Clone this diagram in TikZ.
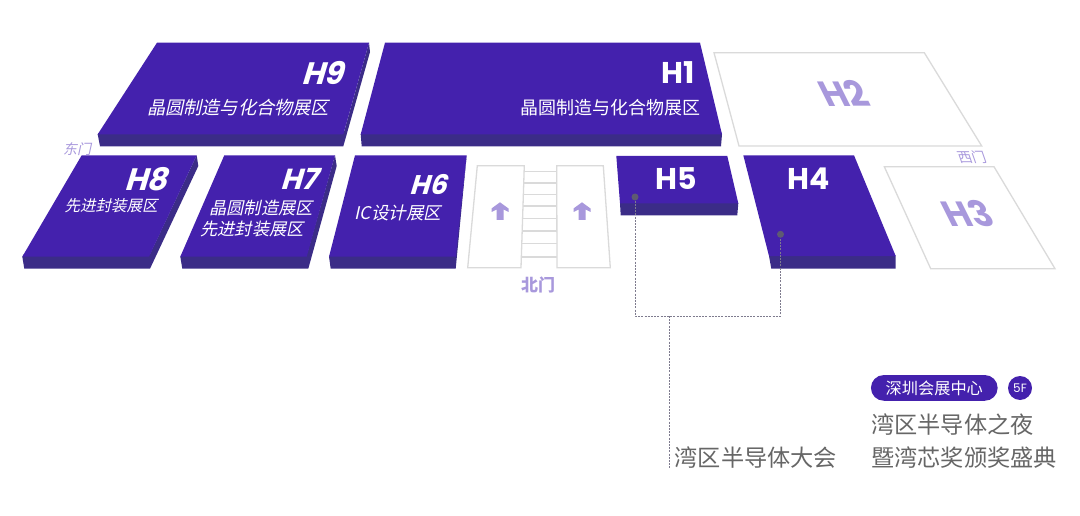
\documentclass[tikz,border=0pt]{standalone}
\usepackage{fontspec}
\newfontfamily\cjk{Noto Sans CJK SC}
\newfontfamily\cjkit[FakeSlant=0.22]{Noto Sans CJK SC}
\newfontfamily\cjkback[FakeSlant=-0.35]{Noto Sans CJK SC}
\newfontfamily\hit[FakeSlant=0.3]{Poppins}
\newfontfamily\hst{Poppins}
\newfontfamily\hbk[FakeSlant=-0.5]{Poppins}
\definecolor{face}{HTML}{4421AD}
\definecolor{sidec}{HTML}{3B2C87}
\definecolor{lav}{HTML}{A898DC}
\definecolor{edgec}{HTML}{DADADA}
\definecolor{txtg}{HTML}{666666}
\definecolor{dotc}{HTML}{5E5A72}
\tikzset{
  x=1pt,y=-1pt,
  topface/.style={fill=face,draw=none},
  sideface/.style={fill=sidec,draw=none},
  outline/.style={draw=edgec,line width=1.3pt,fill=white,line join=miter},
  stepline/.style={draw=edgec,line width=1.2pt},
  lbl/.style={inner sep=0pt,text=white,anchor=center},
  hallit/.style={lbl,font=\hit\bfseries\fontsize{#1}{#1}\selectfont},
  hallup/.style={lbl,font=\hst\bfseries\fontsize{30}{30}\selectfont},
  hallback/.style={lbl,text=lav,font=\hbk\bfseries\fontsize{35}{35}\selectfont},
  zoneit/.style={lbl,font=\cjkit\fontsize{#1}{#1}\selectfont},
  zoneup/.style={lbl,font=\cjk\fontsize{18}{18}\selectfont},
  gate/.style={lbl,text=lav,font=#1},
  bigtxt/.style={lbl,anchor=west,text=txtg,font=\cjk\fontsize{23.2}{23.2}\selectfont},
  pindot/.style={circle,fill=dotc,inner sep=0pt,minimum size=7pt},
  leader/.style={draw=dotc!80,line width=0.9pt,dash pattern=on 2pt off 1.2pt},
  uparrow/.style={fill=lav,draw=none},
}
\begin{document}
\begin{tikzpicture}
\useasboundingbox (0,0) rectangle (1080,516);
% H9
\fill[sideface] (97.7,134.3) -- (100,132) -- (344,132) -- (369,42.7) -- (370,52) -- (343.3,146.3) -- (100,146.3) -- cycle;
\fill[topface] (157,42.7) -- (369,42.7) -- (343.3,134.3) -- (97.7,134.3) -- cycle;
% H1
\fill[sideface] (360.7,134.3) -- (362,132) -- (721,132) -- (722,134.3) -- (721,146.3) -- (361.7,146.3) -- cycle;
\fill[topface] (385,42.7) -- (700,42.7) -- (722,134.3) -- (360.7,134.3) -- cycle;
% H2
\draw[outline] (714,52.7) -- (924.3,52.7) -- (981.7,146) -- (739,146) -- cycle;
% H8
\fill[sideface] (22.3,256.7) -- (24,254) -- (150,254) -- (196.7,155.3) -- (198.3,166) -- (150,268.7) -- (24.3,268.7) -- cycle;
\fill[topface] (81.7,155.3) -- (196.7,155.3) -- (149,256.7) -- (22.3,256.7) -- cycle;
% H7
\fill[sideface] (180.3,256.7) -- (182,254) -- (307,254) -- (335,155.3) -- (336.7,166) -- (308.3,268.7) -- (182.3,268.7) -- cycle;
\fill[topface] (224.3,155.3) -- (335,155.3) -- (306.7,256.7) -- (180.3,256.7) -- cycle;
% H6
\fill[sideface] (329,256.7) -- (331,254) -- (455,254) -- (466.7,155.3) -- (455.7,268.7) -- (330.7,268.7) -- cycle;
\fill[topface] (355,155.3) -- (466.7,155.3) -- (455.7,256.7) -- (329,256.7) -- cycle;
% stairs
\foreach \yy in {171.7,183,194.7,206,218.7,231,243.7,257}
  \draw[stepline] (522,\yy) -- (558,\yy);
\draw[outline] (477.3,165.7) -- (524.3,165.7) -- (521,267.7) -- (467.7,267.7) -- cycle;
\draw[outline] (556.7,165.7) -- (603.3,165.7) -- (610.3,267.7) -- (557,267.7) -- cycle;
\fill[uparrow] (500,202.3) -- (508.5,208.5) -- (508.5,212) -- (503.5,209.5) -- (503.5,220) -- (496.5,220) -- (496.5,209.5) -- (491.5,212) -- (491.5,208.5) -- cycle;
\fill[uparrow] (582,202.3) -- (590.5,208.5) -- (590.5,212) -- (585.5,209.5) -- (585.5,220) -- (578.5,220) -- (578.5,209.5) -- (573.5,212) -- (573.5,208.5) -- cycle;
% H5
\fill[sideface] (620,203.3) -- (622,201) -- (737,201) -- (738.3,203.3) -- (737.3,215.3) -- (620.7,215.3) -- cycle;
\fill[topface] (616.3,156) -- (727.3,156) -- (738.3,203.3) -- (620,203.3) -- cycle;
% H4
\fill[sideface] (769,256) -- (771,253) -- (893,253) -- (895.7,256) -- (895.7,268.7) -- (771.3,268.7) -- cycle;
\fill[topface] (743.3,155.3) -- (854,155.3) -- (895.7,256) -- (769,256) -- cycle;
% H3
\draw[outline] (884.3,166.7) -- (994,166.7) -- (1055,268.7) -- (930.7,268.7) -- cycle;
% leaders
\node[pindot] (d5) at (635,197) {};
\node[pindot] (d4) at (780.5,234.3) {};
\coordinate (bl) at (635,316);
\coordinate (br) at (780.5,316);
\coordinate (t1) at (669,316);
\coordinate (t2) at (669,468);
\draw[leader] (d5) -- (bl) -- (br) -- (d4);
\draw[leader] (t1) -- (t2);
% hall labels
\node[hallit=31] (h9) at (322,73) {H9};
\node[hallup] (h1) at (678,73) {H1};
\node[hallback] (h2) at (850,93) {H2};
\node[hallit=31] (h8) at (145.5,179) {H8};
\node[hallit=29] (h7) at (298.5,179) {H7};
\node[hallit=27] (h6) at (427.5,184) {H6};
\node[hallup] (h5) at (676.5,179) {H5};
\node[hallup] (h4) at (809,179) {H4};
\node[hallback] (h3) at (974,214) {H3};
% zone labels
\node[zoneit=18.2] (z9) at (238,108) {晶圆制造与化合物展区};
\node[zoneup] (z1) at (610,108) {晶圆制造与化合物展区};
\node[zoneit=15.5] (z8) at (111,205.7) {先进封装展区};
\node[zoneit=17.2] (z7a) at (261,207.7) {晶圆制造展区};
\node[zoneit=17.2] (z7b) at (252,229) {先进封装展区};
\node[zoneit=17.5] (z6) at (398,213) {IC设计展区};
% gates
\node[gate=\cjk\bfseries\fontsize{17}{17}\selectfont] (gn) at (538,285) {北门};
\node[gate=\cjkit\fontsize{14}{14}\selectfont] (ge) at (77,149) {东门};
\node[gate=\cjkback\fontsize{14}{14}\selectfont] (gw) at (973.5,157) {西门};
% bottom
\node[fill=face,rounded corners=12.8pt,minimum width=126.7pt,minimum height=25.7pt,inner sep=0pt,text=white,font=\cjk\fontsize{16.2}{16.2}\selectfont] (pill) at (934.3,387.9) {深圳会展中心};
\node[circle,fill=face,minimum size=24pt,inner sep=0pt,text=white,font=\hst\fontsize{12}{12}\selectfont] (floor) at (1020,388) {5F};
\node[bigtxt] (t1a) at (871,425) {湾区半导体之夜};
\node[bigtxt] (t1b) at (871,458) {暨湾芯奖颁奖盛典};
\node[bigtxt] (t2a) at (674.5,458) {湾区半导体大会};
\end{tikzpicture}
\end{document}
